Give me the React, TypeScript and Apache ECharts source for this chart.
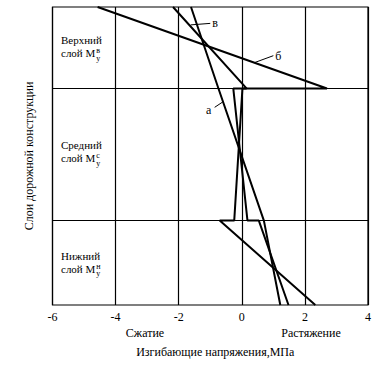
import React, { useEffect, useRef } from "react";
import * as echarts from "echarts";

// x axis (bending stress, MPa)
const xMin = -6;
const xMax = 4;
const xStep = 2;
// y axis: depth through the pavement (arbitrary units), top = 0
const depthMax = 30;
const layerBounds = [8.2, 21.5];

// curve "а"
const curveADepth = [0, 8.2, 21.5, 30];
const curveAX = [-1.61, -0.74, 0.7, 1.22];
// curve "б"
const curveBDepth = [0, 8.2, 8.2, 21.5, 21.5, 30];
const curveBX = [-4.57, 2.7, 0.02, -0.24, -0.7, 2.33];
// curve "в"
const curveVDepth = [0, 8.2, 8.2, 21.5, 21.5, 30];
const curveVX = [-2.18, 0.15, -0.27, 0.18, 0.54, 1.48];

// leader lines for curve names: [x, depth]
const leaderA = [[-0.6, 9.55], [-0.86, 10.1]];
const leaderB = [[0.4, 5.6], [1.0, 4.9]];
const leaderV = [[-1.62, 1.8], [-1.0, 1.65]];
const curveNames = ["а", "б", "в"];

const layerTitles = ["Верхний", "Средний", "Нижний"];
const layerSup = ["в", "с", "н"];
const layerWord = "слой М";
const layerSub = "у";

const xTitle = "Изгибающие напряжения,МПа";
const yTitle = "Слои дорожной конструкции";
const compressLabel = "Сжатие";
const tensionLabel = "Растяжение";

const FONT = "'Liberation Serif', 'Times New Roman', serif";

const pairs = (xs: number[], ds: number[]) => xs.map((x, i) => [x, ds[i]]);

function measure(text: string, size: number) {
  const c = document.createElement("canvas").getContext("2d");
  if (!c) return text.length * size * 0.55;
  c.font = `${size}px ${FONT}`;
  return c.measureText(text).width;
}

export default function App() {
  const ref = useRef<HTMLDivElement>(null);

  useEffect(() => {
    if (!ref.current) return;
    const chart = echarts.init(ref.current, null, { renderer: "svg" });

    const baseLine = (data: number[][], width = 2) => ({
      type: "line",
      data,
      symbol: "none",
      silent: true,
      lineStyle: { color: "#000", width },
      z: 5,
    });

    const option: any = {
      animation: false,
      backgroundColor: "#fff",
      textStyle: { fontFamily: FONT },
      grid: {
        left: 52.5,
        right: 18,
        top: 7,
        bottom: 60,
        show: true,
        borderColor: "#000",
        borderWidth: 1.2,
        backgroundColor: "transparent",
      },
      xAxis: {
        type: "value",
        min: xMin,
        max: xMax,
        interval: xStep,
        axisLine: { show: false },
        axisTick: { show: false },
        splitLine: { show: true, lineStyle: { color: "#000", width: 1.2 } },
        axisLabel: { fontFamily: FONT, fontSize: 12, color: "#000", margin: 6 },
        name: xTitle,
        nameLocation: "middle",
        nameGap: 41,
        nameTextStyle: { fontFamily: FONT, fontSize: 12, color: "#000", padding: [0, 0, 0, 10] },
      },
      yAxis: {
        type: "value",
        inverse: true,
        min: 0,
        max: depthMax,
        axisLine: { show: false },
        axisTick: { show: false },
        axisLabel: { show: false },
        splitLine: { show: false },
        name: yTitle,
        nameLocation: "middle",
        nameRotate: 90,
        nameGap: 18,
        nameTextStyle: { fontFamily: FONT, fontSize: 12, color: "#000" },
      },
      series: [
        {
          ...baseLine(pairs(curveAX, curveADepth)),
          name: curveNames[0],
          markLine: {
            silent: true,
            symbol: ["none", "none"],
            label: { show: false },
            lineStyle: { color: "#000", type: "solid", width: 1.2 },
            data: layerBounds.map((v) => ({ yAxis: v })),
          },
        },
        { ...baseLine(pairs(curveBX, curveBDepth)), name: curveNames[1] },
        { ...baseLine(pairs(curveVX, curveVDepth)), name: curveNames[2] },
        baseLine(leaderA, 1),
        baseLine(leaderB, 1),
        baseLine(leaderV, 1),
      ],
    };
    chart.setOption(option);

    const toPx = (p: number[]) => chart.convertToPixel({ gridIndex: 0 }, p) as number[];
    const txt = (
      text: string,
      x: number,
      y: number,
      size: number,
      align = "center",
      lineHeight?: number
    ) => ({
      type: "text",
      x,
      y,
      silent: true,
      style: {
        text,
        fill: "#000",
        fontFamily: FONT,
        fontSize: size,
        textAlign: align,
        textVerticalAlign: "middle",
        ...(lineHeight ? { lineHeight } : {}),
      },
    });

    const aEnd = toPx(leaderA[1]);
    const bEnd = toPx(leaderB[1]);
    const vEnd = toPx(leaderV[1]);

    const layerY = [41.7, 146.5, 257];
    const labelLeft = 61;
    const wordW = measure(layerWord, 11);
    const graphics: any[] = [
      txt(curveNames[0], aEnd[0] - 6, aEnd[1] + 3, 12),
      txt(curveNames[1], bEnd[0] + 2, bEnd[1], 12, "left"),
      txt(curveNames[2], vEnd[0] + 2, vEnd[1], 12, "left"),
      txt(compressLabel, 145, 333, 12),
      txt(tensionLabel, 311, 333, 12),
    ];
    layerTitles.forEach((t, i) => {
      const y0 = layerY[i];
      graphics.push(txt(t, labelLeft, y0 - 1.5, 11, "left"));
      graphics.push(txt(layerWord, labelLeft, y0 + 11.5, 11, "left"));
      graphics.push(
        txt(layerSup[i] + "\n" + layerSub, labelLeft + wordW + 1, y0 + 13, 8, "left", 7.5)
      );
    });
    chart.setOption({ graphic: graphics });

    return () => chart.dispose();
  }, []);

  return (
    <div
      ref={ref}
      style={{ position: "fixed", left: 0, top: 0, width: 386, height: 365, background: "#fff" }}
    />
  );
}
